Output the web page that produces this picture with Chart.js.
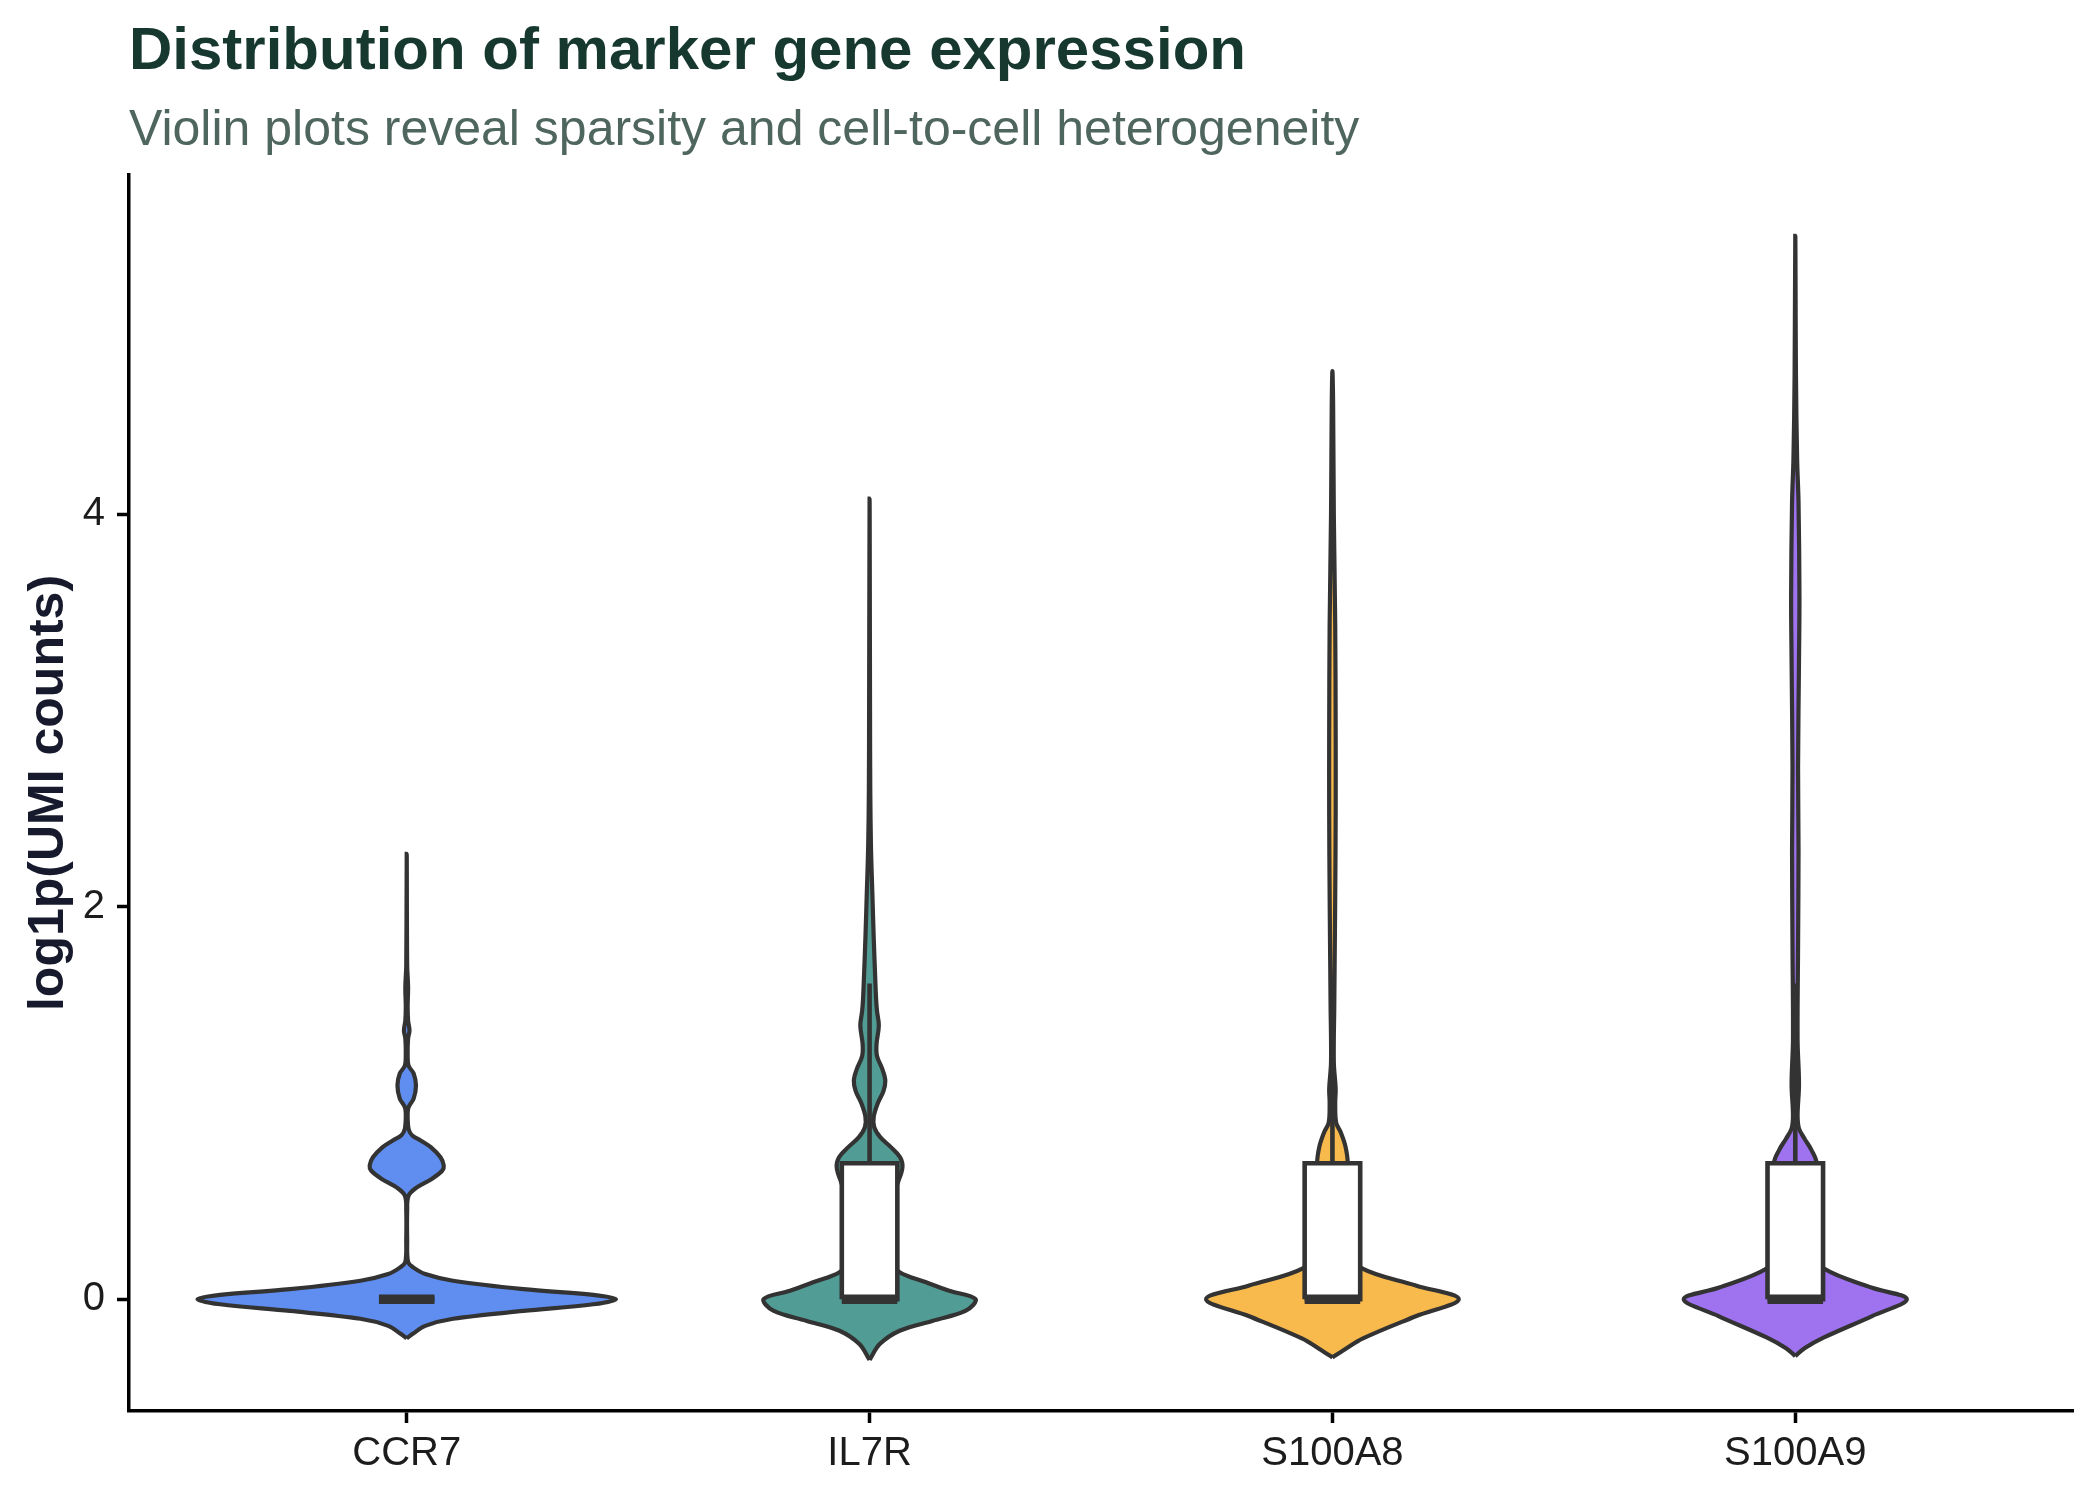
<!DOCTYPE html>
<html>
<head>
<meta charset="utf-8">
<script src="https://cdn.jsdelivr.net/npm/chart.js@4.4.1/dist/chart.umd.min.js"></script>
<style>
  html, body { margin: 0; padding: 0; background: #ffffff; }
  #wrap { width: 2100px; height: 1500px; }
</style>
</head>
<body>
<div id="wrap"><canvas id="violinChart" width="2100" height="1500"></canvas></div>
<script>
// genes and colours
const genes = ['CCR7', 'IL7R', 'S100A8', 'S100A9'];
const geneColors = ['#5f8ef0', '#519c94', '#f8b94d', '#9f72f0'];
const yTickValues = [0, 2, 4];

// violin outlines: expression level -> half width (x units)
const ccr7Level = [-0.20, -0.175, -0.136, -0.10, -0.06, -0.026, 0, 0.022, 0.051, 0.094, 0.128, 0.162, 0.19, 0.30, 0.45, 0.528, 0.57, 0.613, 0.656, 0.681, 0.723, 0.775, 0.809, 0.834, 0.868, 0.946, 0.979, 1.022, 1.089, 1.15, 1.19, 1.25, 1.33, 1.37, 1.42, 1.49, 1.59, 1.70, 2.27];
const ccr7Half  = [0, 0.014, 0.04, 0.10, 0.252, 0.403, 0.452, 0.403, 0.252, 0.10, 0.04, 0.014, 0.003, 0.001, 0.001, 0.004, 0.022, 0.054, 0.077, 0.08, 0.073, 0.052, 0.03, 0.012, 0.004, 0.002, 0.004, 0.015, 0.02, 0.015, 0.004, 0.002, 0.003, 0.006, 0.003, 0.002, 0.003, 0.001, 0];

const il7rLevel = [-0.31, -0.229, -0.161, -0.11, -0.059, 0, 0.043, 0.086, 0.137, 0.2, 0.3, 0.4, 0.5, 0.6, 0.672, 0.723, 0.775, 0.826, 0.877, 0.93, 1.0, 1.06, 1.114, 1.17, 1.24, 1.30, 1.395, 1.47, 1.535, 1.65, 1.84, 2.07, 2.31, 2.6, 3.0, 4.08];
const il7rHalf  = [0, 0.022, 0.065, 0.137, 0.208, 0.229, 0.172, 0.122, 0.065, 0.045, 0.03, 0.03, 0.045, 0.062, 0.071, 0.066, 0.046, 0.023, 0.01, 0.009, 0.018, 0.03, 0.034, 0.028, 0.016, 0.015, 0.02, 0.016, 0.014, 0.012, 0.009, 0.006, 0.003, 0.0015, 0.001, 0];

const s100a8Level = [-0.297, -0.262, -0.2, -0.087, 0, 0.07, 0.157, 0.25, 0.35, 0.45, 0.55, 0.62, 0.693, 0.78, 0.85, 0.9, 1.0, 1.07, 1.21, 1.5, 2.05, 2.47, 2.88, 3.44, 4.0, 4.56, 4.73];
const s100a8Half  = [0, 0.023, 0.066, 0.18, 0.273, 0.18, 0.064, 0.035, 0.02, 0.015, 0.02, 0.028, 0.033, 0.028, 0.018, 0.008, 0.006, 0.007, 0.003, 0.004, 0.006, 0.007, 0.007, 0.006, 0.003, 0.0015, 0];

const s100a9Level = [-0.29, -0.25, -0.195, -0.086, 0, 0.058, 0.156, 0.25, 0.35, 0.45, 0.55, 0.62, 0.693, 0.76, 0.818, 0.87, 0.935, 1.096, 1.32, 1.80, 2.29, 2.71, 3.25, 3.58, 4.06, 4.28, 4.7, 5.42];
const s100a9Half  = [0, 0.02, 0.062, 0.166, 0.241, 0.166, 0.062, 0.035, 0.02, 0.016, 0.022, 0.035, 0.046, 0.035, 0.02, 0.008, 0.005, 0.008, 0.005, 0.006, 0.007, 0.006, 0.008, 0.009, 0.007, 0.004, 0.0015, 0];

// box plot statistics
const boxQ1 = [0, 0, 0, 0];
const boxMedian = [0, 0, 0, 0];
const boxQ3 = [0, 0.693, 0.693, 0.693];
const whiskerTop = [0, 1.609, 1.609, 1.609];

const violinLevels = [ccr7Level, il7rLevel, s100a8Level, s100a9Level];
const violinHalves = [ccr7Half, il7rHalf, s100a8Half, s100a9Half];

const outline = '#333333';
const boxHalf = 0.06;

function violinShape(pos, levels, half) {
  const right = levels.map((y, i) => ({ x: pos + half[i], y: y }));
  const left = levels.slice(1, -1).map((y, i) => ({ x: pos - half[i + 1], y: y })).reverse();
  return right.concat(left, [right[0]]);
}

const datasets = [];
genes.forEach((g, i) => {
  const pos = i + 1;
  datasets.push({
    label: g,
    data: violinShape(pos, violinLevels[i], violinHalves[i]),
    showLine: true,
    fill: 'shape',
    backgroundColor: geneColors[i],
    borderColor: outline,
    borderWidth: 4.2,
    tension: 0.35,
    pointRadius: 0,
    order: 3
  });
  // box
  datasets.push({
    data: [
      { x: pos - boxHalf, y: boxQ1[i] }, { x: pos + boxHalf, y: boxQ1[i] },
      { x: pos + boxHalf, y: boxQ3[i] }, { x: pos - boxHalf, y: boxQ3[i] },
      { x: pos - boxHalf, y: boxQ1[i] }
    ],
    showLine: true,
    fill: 'shape',
    backgroundColor: '#ffffff',
    borderColor: outline,
    borderWidth: 4.6,
    borderJoinStyle: 'miter',
    tension: 0,
    pointRadius: 0,
    order: 2
  });
  // upper whisker
  datasets.push({
    data: [{ x: pos, y: boxQ3[i] }, { x: pos, y: whiskerTop[i] }],
    showLine: true,
    borderColor: outline,
    borderWidth: 4.6,
    pointRadius: 0,
    order: 2
  });
  // median
  datasets.push({
    data: [{ x: pos - boxHalf, y: boxMedian[i] }, { x: pos + boxHalf, y: boxMedian[i] }],
    showLine: true,
    borderColor: outline,
    borderWidth: 9.5,
    pointRadius: 0,
    order: 1
  });
});

const ctx = document.getElementById('violinChart').getContext('2d');
new Chart(ctx, {
  type: 'scatter',
  data: { datasets: datasets },
  options: {
    responsive: false,
    animation: false,
    layout: { padding: { left: 0, right: 27, top: 0, bottom: 0 } },
    plugins: {
      legend: { display: false },
      tooltip: { enabled: false },
      title: {
        display: true,
        text: 'Distribution of marker gene expression',
        align: 'start',
        fullSize: false,
        color: '#17382f',
        font: { family: 'Liberation Sans', size: 60, weight: 'bold' },
        padding: { top: 16, bottom: 0 }
      },
      subtitle: {
        display: true,
        text: 'Violin plots reveal sparsity and cell-to-cell heterogeneity',
        align: 'start',
        fullSize: false,
        color: '#4f665f',
        font: { family: 'Liberation Sans', size: 50 },
        padding: { top: 13, bottom: 14 }
      }
    },
    scales: {
      x: {
        type: 'linear',
        min: 0.4,
        max: 4.6,
        afterBuildTicks: (scale) => { scale.ticks = genes.map((g, i) => ({ value: i + 1 })); },
        afterFit: (scale) => { scale.height = 89; },
        ticks: {
          callback: (value) => genes[value - 1],
          color: '#1c1c1c',
          font: { family: 'Liberation Sans', size: 40 },
          padding: 7,
          maxRotation: 0,
          autoSkip: false
        },
        grid: { display: true, drawOnChartArea: false, drawTicks: true, tickLength: 12, tickWidth: 3.5, tickColor: '#000000' },
        border: { display: true, color: '#000000', width: 3.5 }
      },
      y: {
        type: 'linear',
        min: -0.57,
        max: 5.73,
        afterBuildTicks: (scale) => { scale.ticks = yTickValues.map(v => ({ value: v })); },
        afterFit: (scale) => { scale.width = 129; },
        title: {
          display: true,
          text: 'log1p(UMI counts)',
          color: '#161a2c',
          font: { family: 'Liberation Sans', size: 50, weight: 'bold' },
          padding: { top: 19, bottom: 0 }
        },
        ticks: {
          callback: (value) => String(value),
          color: '#1c1c1c',
          font: { family: 'Liberation Sans', size: 40 },
          padding: 12
        },
        grid: { display: true, drawOnChartArea: false, drawTicks: true, tickLength: 12, tickWidth: 3.5, tickColor: '#000000' },
        border: { display: true, color: '#000000', width: 3.5 }
      }
    }
  }
});
</script>
</body>
</html>
